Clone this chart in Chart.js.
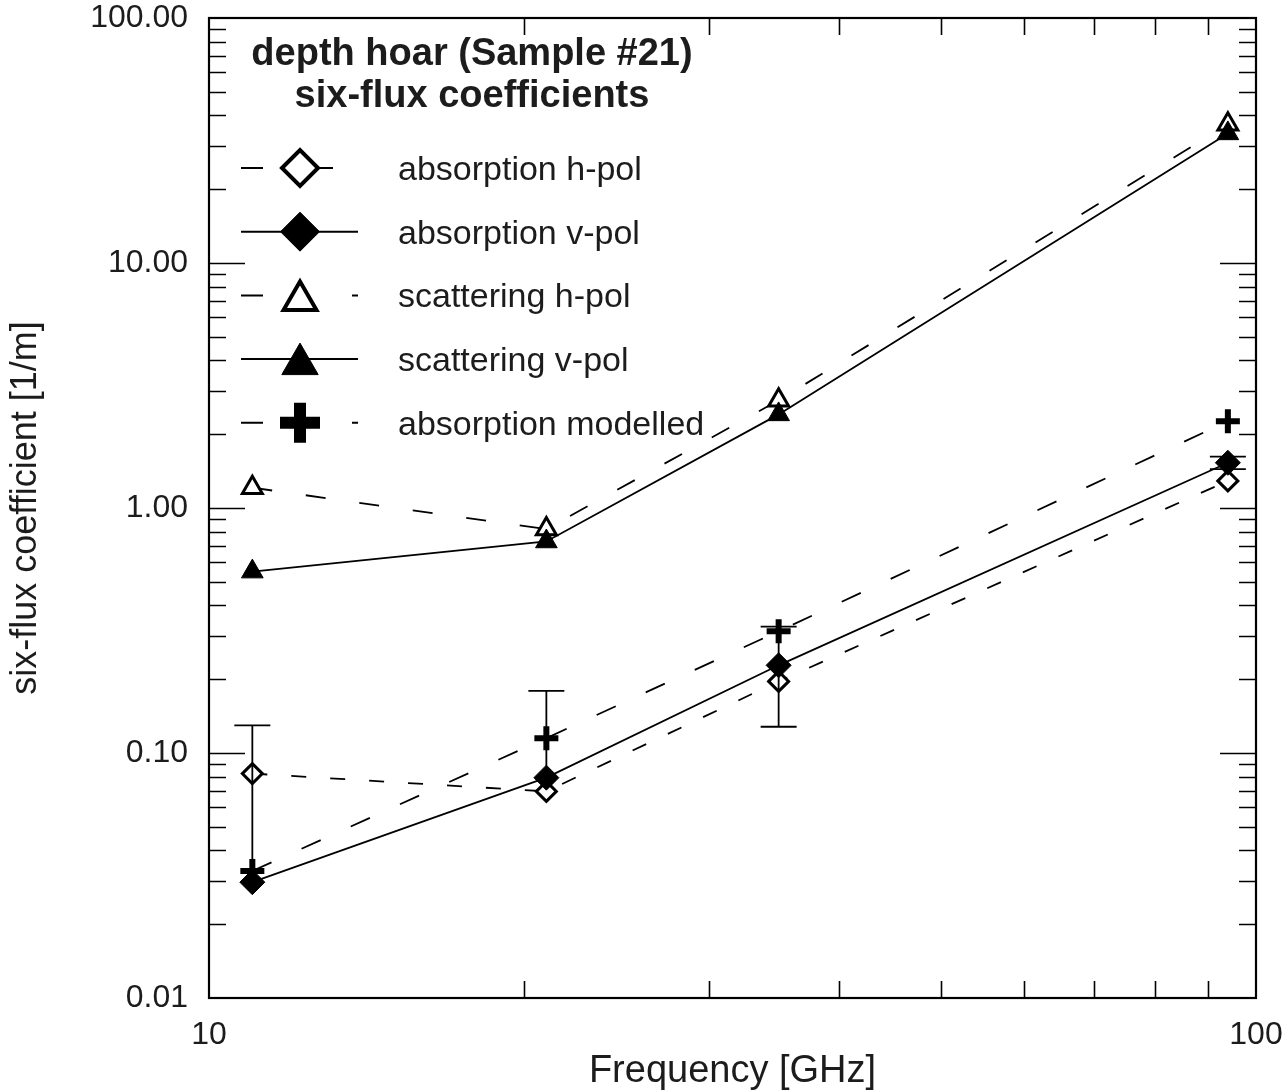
<!DOCTYPE html>
<html>
<head>
<meta charset="utf-8">
<title>six-flux coefficients</title>
<script src="https://cdn.jsdelivr.net/npm/chart.js@4.4.1/dist/chart.umd.min.js"></script>
<style>
  html, body { margin: 0; padding: 0; background: #fff; }
  #wrap { width: 1282px; height: 1091px; }
  canvas { display: block; }
</style>
</head>
<body>
<div id="wrap"><canvas id="c" width="1282" height="1091"></canvas></div>
<script>
// Measurement frequencies [GHz]
const frequencies = [11, 21, 35, 94];

// Six-flux coefficients [1/m]
const absorptionH = [0.0824, 0.0697, 0.196, 1.29];
const absorptionV = [0.0297, 0.0793, 0.228, 1.53];
const scatteringH = [1.21, 0.82, 2.75, 36.8];
const scatteringV = [0.55, 0.73, 2.41, 33.8];
const absorptionModelled = [0.0330, 0.115, 0.314, 2.26];

// Uncertainty (±) of the v-pol absorption [1/m]
const absorptionVErr = [0.10, 0.10, 0.10, 0.09];

// Axis tick labels
const yTickValues = [0.01, 0.1, 1, 10, 100];
const yTickLabels = ['0.01', '0.10', '1.00', '10.00', '100.00'];
const xTickValues = [10, 100];
const xTickLabels = ['10', '100'];

const seriesLabels = ['absorption h-pol', 'absorption v-pol', 'scattering h-pol', 'scattering v-pol', 'absorption modelled'];
const titleLines = ['depth hoar (Sample #21)', 'six-flux coefficients'];
const xTitle = 'Frequency [GHz]';
const yTitle = 'six-flux coefficient [1/m]';

const FONT = "'Liberation Sans', Arial, Helvetica, sans-serif";
const INK = '#000';
const TEXT = '#1c1c1c';

// Marker and line appearance for each series (same order as seriesLabels)
const seriesStyle = [
  { shape: 'rectRot',  fill: '#fff', r: 10,   bw: 3, dash: [15, 24], order: 2, lr: 18,   lbw: 4,  segs: [[0, 22], [77, 92]],   ldy: 0 },
  { shape: 'rectRot',  fill: INK,    r: 12.5, bw: 1, dash: [],       order: 1, lr: 19.5, lbw: 1,  segs: [[0, 117]],            ldy: 0 },
  { shape: 'triangle', fill: '#fff', r: 11.5, bw: 3, dash: [20, 34], order: 2, lr: 19,   lbw: 4,  segs: [[0, 22], [111, 117]], ldy: 5 },
  { shape: 'triangle', fill: INK,    r: 12.5, bw: 1, dash: [],       order: 1, lr: 21,   lbw: 1,  segs: [[0, 117]],            ldy: 5 },
  { shape: 'cross',    fill: INK,    r: 12,   bw: 6, dash: [21, 33], order: 1, lr: 20,   lbw: 12, segs: [[0, 22], [111, 117]], ldy: 0 }
];
const seriesValues = [absorptionH, absorptionV, scatteringH, scatteringV, absorptionModelled];

function toPoints(ys) {
  return frequencies.map((f, i) => ({ x: f, y: ys[i] }));
}

// Simple marker painter used for the in-plot key
function paintMarker(ctx, shape, x, y, r, fill, lw) {
  ctx.save();
  ctx.strokeStyle = INK;
  ctx.fillStyle = fill;
  ctx.lineWidth = lw;
  ctx.setLineDash([]);
  ctx.beginPath();
  if (shape === 'rectRot') {
    ctx.moveTo(x - r, y); ctx.lineTo(x, y - r); ctx.lineTo(x + r, y); ctx.lineTo(x, y + r); ctx.closePath();
    ctx.fill(); ctx.stroke();
  } else if (shape === 'triangle') {
    const a = -Math.PI / 2;
    for (let k = 0; k < 3; k++) {
      const t = a + k * 2 * Math.PI / 3;
      const px = x + Math.cos(t) * r, py = y + Math.sin(t) * r;
      if (k === 0) ctx.moveTo(px, py); else ctx.lineTo(px, py);
    }
    ctx.closePath();
    ctx.fill(); ctx.stroke();
  } else {
    ctx.moveTo(x - r, y); ctx.lineTo(x + r, y);
    ctx.moveTo(x, y - r); ctx.lineTo(x, y + r);
    ctx.stroke();
  }
  ctx.restore();
}

// Frame with inward tick marks on all four sides
const frameTicks = {
  id: 'frameTicks',
  afterDatasetsDraw(chart) {
    const { ctx, chartArea: a, scales: { x, y } } = chart;
    ctx.save();
    ctx.strokeStyle = INK;
    ctx.lineWidth = 1.6;
    ctx.beginPath();
    for (let e = -2; e <= 1; e++) {
      for (let k = 1; k <= 9; k++) {
        const v = k * Math.pow(10, e);
        if (k === 1 && e === -2) continue;
        const py = Math.round(y.getPixelForValue(v)) + 0.5;
        const len = k === 1 ? 36 : 17;
        ctx.moveTo(a.left, py); ctx.lineTo(a.left + len, py);
        ctx.moveTo(a.right, py); ctx.lineTo(a.right - len, py);
      }
    }
    for (let k = 2; k <= 9; k++) {
      const px = Math.round(x.getPixelForValue(k * 10)) + 0.5;
      ctx.moveTo(px, a.top); ctx.lineTo(px, a.top + 17);
      ctx.moveTo(px, a.bottom); ctx.lineTo(px, a.bottom - 17);
    }
    ctx.stroke();
    ctx.lineWidth = 2.2;
    ctx.strokeRect(a.left, a.top, a.right - a.left, a.bottom - a.top);
    ctx.restore();
  }
};

// Error bars on the v-pol absorption (only the positive part on a log axis)
const errorBars = {
  id: 'errorBars',
  afterDatasetsDraw(chart) {
    const { ctx, scales: { x, y } } = chart;
    ctx.save();
    ctx.strokeStyle = INK;
    ctx.lineWidth = 1.8;
    ctx.beginPath();
    frequencies.forEach((f, i) => {
      const v = absorptionV[i], e = absorptionVErr[i];
      const px = x.getPixelForValue(f);
      const hi = y.getPixelForValue(v + e);
      const lo = v - e > 0 ? y.getPixelForValue(v - e) : y.getPixelForValue(v);
      ctx.moveTo(px, hi); ctx.lineTo(px, lo);
      ctx.moveTo(px - 18, hi); ctx.lineTo(px + 18, hi);
      if (v - e > 0) { ctx.moveTo(px - 18, lo); ctx.lineTo(px + 18, lo); }
    });
    ctx.stroke();
    ctx.restore();
  }
};

// Title block and key inside the plot area
const innerLegend = {
  id: 'innerLegend',
  afterDraw(chart) {
    const { ctx, chartArea: a } = chart;
    ctx.save();
    ctx.fillStyle = TEXT;
    ctx.textAlign = 'center';
    ctx.textBaseline = 'alphabetic';
    ctx.font = 'bold 38px ' + FONT;
    ctx.fillText(titleLines[0], a.left + 263, a.top + 47);
    ctx.fillText(titleLines[1], a.left + 263, a.top + 89);

    const lineX = a.left + 32, markX = a.left + 91, textX = a.left + 189;
    seriesLabels.forEach((label, i) => {
      const s = seriesStyle[i];
      const cy = a.top + 150 + i * 63.7;
      ctx.strokeStyle = INK;
      ctx.lineWidth = 2;
      ctx.setLineDash([]);
      ctx.beginPath();
      s.segs.forEach(([p, q]) => { ctx.moveTo(lineX + p, cy); ctx.lineTo(lineX + q, cy); });
      ctx.stroke();
      paintMarker(ctx, s.shape, markX, cy + s.ldy, s.lr, s.fill, s.lbw);
      ctx.fillStyle = TEXT;
      ctx.textAlign = 'left';
      ctx.font = '34px ' + FONT;
      ctx.fillText(label, textX, cy + 12);
    });
    ctx.restore();
  }
};

const datasets = seriesValues.map((vals, i) => {
  const s = seriesStyle[i];
  return {
    label: seriesLabels[i],
    data: toPoints(vals),
    showLine: true,
    borderColor: INK,
    borderWidth: 1.8,
    borderDash: s.dash,
    fill: false,
    tension: 0,
    order: s.order,
    pointStyle: s.shape,
    pointRadius: s.r,
    pointBorderWidth: s.bw,
    pointBorderColor: INK,
    pointBackgroundColor: s.fill,
    pointHoverRadius: s.r
  };
});

new Chart(document.getElementById('c'), {
  type: 'line',
  data: { datasets },
  options: {
    responsive: false,
    animation: false,
    devicePixelRatio: 1,
    events: [],
    layout: { padding: { top: 13, right: 26, left: 0, bottom: 0 } },
    plugins: { legend: { display: false }, tooltip: { enabled: false } },
    scales: {
      x: {
        type: 'logarithmic',
        min: 10, max: 100,
        grid: { display: false, drawTicks: false },
        border: { display: false },
        afterBuildTicks(scale) { scale.ticks = xTickValues.map(v => ({ value: v })); },
        afterFit(scale) { scale.height = 93; scale.paddingLeft = 0; scale.paddingRight = 0; },
        ticks: {
          autoSkip: false, maxRotation: 0, minRotation: 0, padding: 18,
          color: TEXT, font: { family: FONT, size: 32 },
          callback: (v, i) => xTickLabels[i]
        },
        title: {
          display: true, text: xTitle, color: TEXT,
          font: { family: FONT, size: 38, lineHeight: 1 },
          padding: { top: 0, bottom: 0 }
        }
      },
      y: {
        type: 'logarithmic',
        min: 0.01, max: 100,
        grid: { display: false, drawTicks: false },
        border: { display: false },
        afterBuildTicks(scale) { scale.ticks = yTickValues.map(v => ({ value: v })); },
        afterFit(scale) { scale.width = 209; scale.paddingTop = 0; scale.paddingBottom = 0; },
        ticks: {
          autoSkip: false, padding: 21,
          color: TEXT, font: { family: FONT, size: 32 },
          callback: (v, i) => yTickLabels[i]
        },
        title: {
          display: true, text: yTitle, color: TEXT,
          font: { family: FONT, size: 36, lineHeight: 1 },
          padding: { top: 8, bottom: 0 }
        }
      }
    }
  },
  plugins: [frameTicks, errorBars, innerLegend]
});
</script>
</body>
</html>
